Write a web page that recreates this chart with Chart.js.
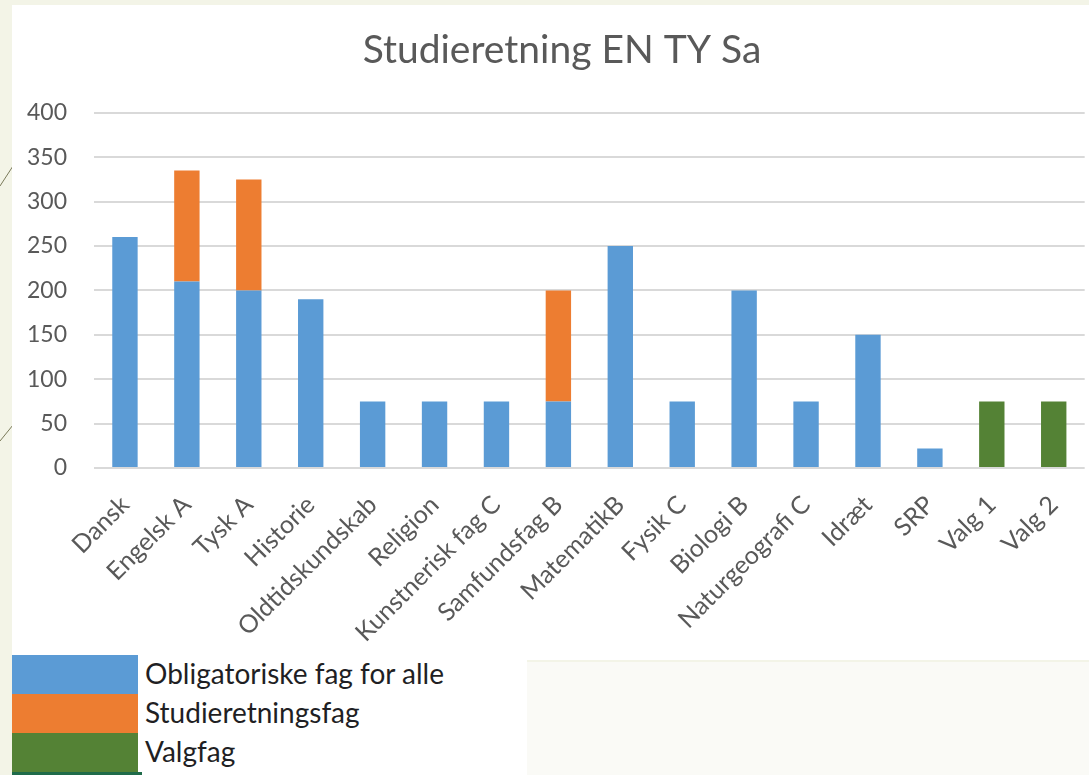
<!DOCTYPE html>
<html><head><meta charset="utf-8">
<script src="https://cdn.jsdelivr.net/npm/chart.js@4.4.1/dist/chart.umd.min.js"></script>
<style>
html,body{margin:0;padding:0;width:1089px;height:775px;overflow:hidden;background:#f3f4e7;}
#white{position:absolute;left:12px;top:5px;width:1077px;height:655px;background:#fff;}
#br{position:absolute;left:527px;top:662px;width:562px;height:113px;background:#fafaf6;}
#wrap{position:absolute;left:0;top:0;width:1089px;height:660px;}
#legend{position:absolute;left:12px;top:655px;width:515px;height:120px;background:#fff;}
.row{position:absolute;left:0;height:39px;width:515px;}
.sw{position:absolute;left:0;top:0;width:126px;height:39px;}
.lbl{position:absolute;left:133px;top:1px;line-height:39px;font:28px Lato;color:#1f1f24;white-space:nowrap;}
#deco{position:absolute;left:0;top:0;}
</style></head>
<body>
<svg id="deco" width="14" height="775"><line x1="0" y1="186" x2="13" y2="166" stroke="#7a7a5a" stroke-width="1"/><line x1="0" y1="441" x2="13" y2="425" stroke="#7a7a5a" stroke-width="1"/></svg>
<div id="white"></div>
<div id="br"></div>
<div id="wrap"><canvas id="c"></canvas></div>
<div id="legend"></div>
<script>
const titleText = 'Studieretning EN TY Sa';
const categories = ['Dansk','Engelsk A','Tysk A','Historie','Oldtidskundskab','Religion','Kunstnerisk fag C','Samfundsfag B','MatematikB','Fysik C','Biologi B','Naturgeografi C','Idræt','SRP','Valg 1','Valg 2'];
const obligatoriske = [260,210,200,190,75,75,75,75,250,75,200,75,150,22,0,0];
const studieretningsfag = [0,125,125,0,0,0,0,125,0,0,0,0,0,0,0,0];
const valgfag = [0,0,0,0,0,0,0,0,0,0,0,0,0,0,75,75];
const seriesNames = ['Obligatoriske fag for alle','Studieretningsfag','Valgfag'];
const seriesColors = ['#5b9bd5','#ed7d31','#548235'];
const yMin = 0, yMax = 400, yStep = 50;

const seriesData = [obligatoriske, studieretningsfag, valgfag];
const datasets = seriesNames.map((n,i)=>({
  label:n, data:seriesData[i], backgroundColor:seriesColors[i],
  borderWidth:0, categoryPercentage:1, barPercentage:0.41
}));

const shiftTitle = {
  id:'shiftTitle',
  afterLayout(c){ if(c.titleBlock){ c.titleBlock.left += 25; } }
};

const chart = new Chart(document.getElementById('c'),{
  type:'bar',
  data:{labels:categories, datasets},
  plugins:[shiftTitle],
  options:{
    responsive:true, maintainAspectRatio:false, animation:false,
    layout:{padding:{left:12,right:2,top:0,bottom:0}},
    plugins:{
      legend:{display:false},
      tooltip:{enabled:false},
      title:{display:true,text:titleText,color:'#595959',
        font:{family:'Lato',size:39,weight:'normal'},padding:{top:27,bottom:39}}
    },
    scales:{
      x:{stacked:true,grid:{display:false},border:{display:false},
        ticks:{autoSkip:false,maxRotation:45,minRotation:45,color:'#595959',
          font:{family:'Lato',size:25},padding:14},
        afterFit:(s)=>{s.height=192;}},
      y:{stacked:true,min:yMin,max:yMax,
        grid:{color:'#d9d9d9',lineWidth:2,drawTicks:false},
        border:{display:false},
        ticks:{stepSize:yStep,color:'#595959',font:{family:'Lato',size:23},padding:27},
        afterFit:(s)=>{s.width=82;}}
    }
  }
});

const lg = document.getElementById('legend');
seriesNames.forEach((n,i)=>{
  const r=document.createElement('div'); r.className='row'; r.style.top=(i*39)+'px';
  const sw=document.createElement('div'); sw.className='sw'; sw.style.background=seriesColors[i];
  const t=document.createElement('div'); t.className='lbl'; t.textContent=n;
  r.appendChild(sw); r.appendChild(t); lg.appendChild(r);
});
const strip=document.createElement('div');
strip.style.cssText='position:absolute;left:0;top:117px;width:130px;height:3px;background:#1f6b4a;';
lg.appendChild(strip);
</script>
</body></html>
